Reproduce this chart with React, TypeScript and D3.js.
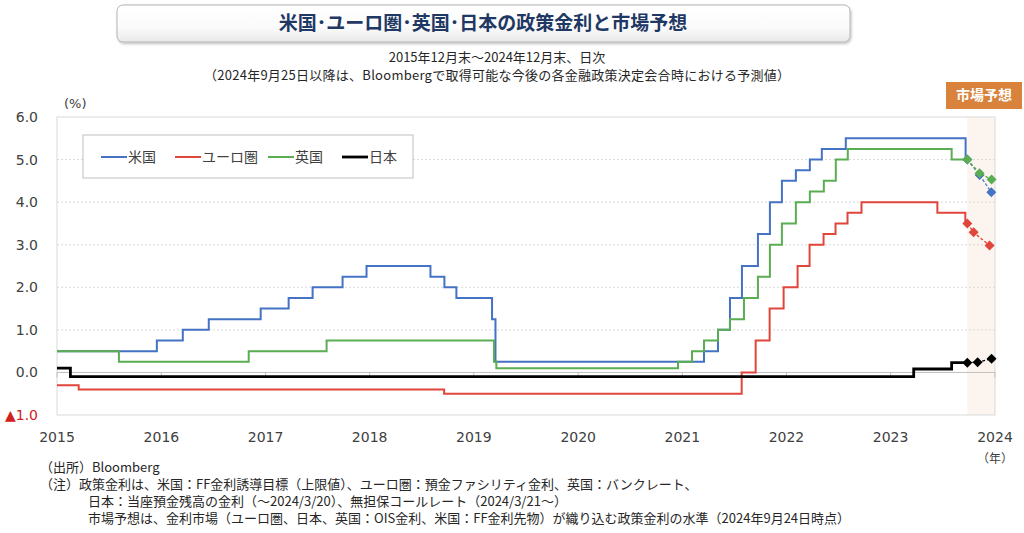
import React from 'react'
import * as d3 from 'd3'

type Pt = [string, number]

// 政策金利の変更日と水準（%）
const usRates: Pt[] = [
  ['2015-12-31', 0.5],
  ['2016-12-15', 0.75],
  ['2017-03-16', 1.0],
  ['2017-06-15', 1.25],
  ['2017-12-14', 1.5],
  ['2018-03-22', 1.75],
  ['2018-06-14', 2.0],
  ['2018-09-27', 2.25],
  ['2018-12-20', 2.5],
  ['2019-08-01', 2.25],
  ['2019-09-19', 2.0],
  ['2019-10-31', 1.75],
  ['2020-03-04', 1.25],
  ['2020-03-16', 0.25],
  ['2022-03-17', 0.5],
  ['2022-05-05', 1.0],
  ['2022-06-16', 1.75],
  ['2022-07-28', 2.5],
  ['2022-09-22', 3.25],
  ['2022-11-03', 4.0],
  ['2022-12-15', 4.5],
  ['2023-02-02', 4.75],
  ['2023-03-23', 5.0],
  ['2023-05-04', 5.25],
  ['2023-07-27', 5.5],
  ['2024-09-19', 5.0]
]

const euroRates: Pt[] = [
  ['2015-12-31', -0.3],
  ['2016-03-16', -0.4],
  ['2019-09-18', -0.5],
  ['2022-07-27', 0.0],
  ['2022-09-14', 0.75],
  ['2022-11-02', 1.5],
  ['2022-12-21', 2.0],
  ['2023-02-08', 2.5],
  ['2023-03-22', 3.0],
  ['2023-05-10', 3.25],
  ['2023-06-21', 3.5],
  ['2023-08-02', 3.75],
  ['2023-09-20', 4.0],
  ['2024-06-12', 3.75],
  ['2024-09-18', 3.5]
]

const ukRates: Pt[] = [
  ['2015-12-31', 0.5],
  ['2016-08-04', 0.25],
  ['2017-11-02', 0.5],
  ['2018-08-02', 0.75],
  ['2020-03-11', 0.25],
  ['2020-03-19', 0.1],
  ['2021-12-16', 0.25],
  ['2022-02-03', 0.5],
  ['2022-03-17', 0.75],
  ['2022-05-05', 1.0],
  ['2022-06-16', 1.25],
  ['2022-08-04', 1.75],
  ['2022-09-22', 2.25],
  ['2022-11-03', 3.0],
  ['2022-12-15', 3.5],
  ['2023-02-02', 4.0],
  ['2023-03-23', 4.25],
  ['2023-05-11', 4.5],
  ['2023-06-22', 5.0],
  ['2023-08-03', 5.25],
  ['2024-08-01', 5.0]
]

const japanRates: Pt[] = [
  ['2015-12-31', 0.1],
  ['2016-02-16', -0.1],
  ['2024-03-21', 0.08],
  ['2024-08-01', 0.23]
]

// 市場予想（2024年9月24日時点）
const usForecast: Pt[] = [
  ['2024-09-25', 5.0],
  ['2024-11-07', 4.64],
  ['2024-12-18', 4.23]
]
const euroForecast: Pt[] = [
  ['2024-09-25', 3.5],
  ['2024-10-17', 3.29],
  ['2024-12-12', 2.98]
]
const ukForecast: Pt[] = [
  ['2024-09-25', 5.0],
  ['2024-11-07', 4.68],
  ['2024-12-19', 4.53]
]
const japanForecast: Pt[] = [
  ['2024-09-25', 0.23],
  ['2024-10-31', 0.24],
  ['2024-12-19', 0.32]
]

const seriesNames = ['米国', 'ユーロ圏', '英国', '日本']
const seriesColors = ['#4472c4', '#e0463b', '#5aad50', '#000000']
const yearLabels = [2015, 2016, 2017, 2018, 2019, 2020, 2021, 2022, 2023, 2024]
const yTicks = [6, 5, 4, 3, 2, 1, 0, -1]

const startDate = '2015-12-31'
const forecastStart = '2024-09-25'
const endDate = '2024-12-31'

const titleText = '米国･ユーロ圏･英国･日本の政策金利と市場予想'
const subtitle1 = '2015年12月末～2024年12月末、日次'
const subtitle2 = '（2024年9月25日以降は、Bloombergで取得可能な今後の各金融政策決定会合時における予測値）'
const notes = [
  '（出所）Bloomberg',
  '（注）政策金利は、米国：FF金利誘導目標（上限値）、ユーロ圏：預金ファシリティ金利、英国：バンクレート、',
  '日本：当座預金残高の金利（～2024/3/20）、無担保コールレート（2024/3/21～）',
  '市場予想は、金利市場（ユーロ圏、日本、英国：OIS金利、米国：FF金利先物）が織り込む政策金利の水準（2024年9月24日時点）'
]

const jp = '"Noto Sans CJK JP", sans-serif'
const num = '"DejaVu Sans", sans-serif'

export default function App() {
  const parse = d3.timeParse('%Y-%m-%d')
  const margin = { left: 57, right: 995, top: 117, bottom: 415 }

  const x = d3
    .scaleTime()
    .domain([parse(startDate)!, parse(endDate)!])
    .range([margin.left, margin.right])
  const y = d3.scaleLinear().domain([-1, 6]).range([margin.bottom, margin.top])

  const stepLine = d3
    .line<Pt>()
    .x(d => x(parse(d[0])!))
    .y(d => y(d[1]))
    .curve(d3.curveStepAfter)
  const straight = d3
    .line<Pt>()
    .x(d => x(parse(d[0])!))
    .y(d => y(d[1]))

  const allRates = [usRates, euroRates, ukRates, japanRates]
  const allForecasts = [usForecast, euroForecast, ukForecast, japanForecast]
  // step line runs to the start of the forecast window
  const histories = allRates.map(r => [...r, [forecastStart, r[r.length - 1][1]] as Pt])

  const diamond = d3.symbol(d3.symbolSquare, 50)()
  const fx = x(parse(forecastStart)!)

  const legendX = [101, 175, 268, 342]

  return (
    <div style={{ position: 'absolute', left: 0, top: 0 }}>
      <svg width={1024} height={533} style={{ display: 'block', background: '#fff' }}>
        <defs>
          <linearGradient id="tbox" x1="0" y1="0" x2="0" y2="1">
            <stop offset="0" stopColor="#ffffff" />
            <stop offset="0.6" stopColor="#fbfbfb" />
            <stop offset="1" stopColor="#e9e9e9" />
          </linearGradient>
          <filter id="shadow" x="-5%" y="-30%" width="110%" height="160%">
            <feDropShadow dx="1" dy="1.5" stdDeviation="1.2" floodColor="#000" floodOpacity="0.25" />
          </filter>
        </defs>

        {/* title */}
        <rect x={117} y={5} width={733} height={37} rx={6} fill="url(#tbox)" stroke="#b5b5b5" filter="url(#shadow)" />
        <text x={483} y={30} textAnchor="middle" fontFamily={jp} fontWeight={700} fontSize={19} fill="#1f3864">
          {titleText}
        </text>
        <text x={497} y={62} textAnchor="middle" fontFamily={jp} fontSize={13} fill="#262626">
          {subtitle1}
        </text>
        <text
          x={497}
          y={80}
          textAnchor="middle"
          fontFamily={jp}
          fontSize={13}
          fill="#262626"
          textLength={586}
          lengthAdjust="spacing"
        >
          {subtitle2}
        </text>

        {/* market forecast label */}
        <rect x={946} y={82} width={76} height={27} fill="#d8823c" />
        <text x={984} y={100} textAnchor="middle" fontFamily={jp} fontWeight={700} fontSize={14} fill="#fff">
          市場予想
        </text>

        {/* forecast shading */}
        <rect x={fx} y={margin.top} width={margin.right - fx} height={margin.bottom - margin.top} fill="#fcf4ee" />

        {/* grid */}
        {yTicks
          .filter(v => v > 0 && v < 6)
          .map(v => (
            <line key={v} x1={margin.left} x2={margin.right} y1={y(v)} y2={y(v)} stroke="#d9d9d9" strokeDasharray="2,2" />
          ))}
        <rect
          x={margin.left}
          y={margin.top}
          width={margin.right - margin.left}
          height={margin.bottom - margin.top}
          fill="none"
          stroke="#d9d9d9"
        />

        {/* zero axis with year ticks */}
        <line x1={margin.left} x2={margin.right} y1={y(0)} y2={y(0)} stroke="#bfbfbf" />
        {yearLabels.map(yr => {
          const px = x(parse(`${yr}-12-31`)!)
          return <line key={yr} x1={px} x2={px} y1={y(0)} y2={y(0) + 5} stroke="#bfbfbf" />
        })}

        {/* y labels */}
        <text x={64} y={108} fontFamily={num} fontSize={13} fill="#404040">
          (%)
        </text>
        {yTicks.map(v => (
          <text
            key={v}
            x={38}
            y={y(v)}
            dy="0.36em"
            textAnchor="end"
            fontFamily={num}
            fontSize={14}
            fill={v < 0 ? '#d02020' : '#404040'}
          >
            {v < 0 ? '▲' + Math.abs(v).toFixed(1) : v.toFixed(1)}
          </text>
        ))}

        {/* x labels */}
        {yearLabels.map(yr => (
          <text
            key={yr}
            x={x(parse(`${yr}-12-31`)!)}
            y={442}
            textAnchor="middle"
            fontFamily={num}
            fontSize={14}
            fill="#404040"
          >
            {yr}
          </text>
        ))}
        <text x={995} y={463} textAnchor="middle" fontFamily={jp} fontSize={12} fill="#404040">
          （年）
        </text>

        {/* policy rate lines */}
        {histories.map((h, i) => (
          <path
            key={seriesNames[i]}
            d={stepLine(h) || ''}
            fill="none"
            stroke={seriesColors[i]}
            strokeWidth={i === 3 ? 2.8 : 2}
            strokeLinejoin="miter"
          />
        ))}

        {/* forecasts */}
        {allForecasts.map((f, i) => (
          <g key={seriesNames[i]}>
            <path d={straight(f) || ''} fill="none" stroke={seriesColors[i]} strokeWidth={1.3} strokeDasharray="3,2" />
            {f.map(d => (
              <path
                key={d[0]}
                d={diamond || ''}
                transform={`translate(${x(parse(d[0])!)},${y(d[1])}) rotate(45)`}
                fill={seriesColors[i]}
              />
            ))}
          </g>
        ))}

        {/* legend */}
        <rect x={83} y={135} width={330} height={43} fill="#fff" stroke="#bfbfbf" />
        {seriesNames.map((n, i) => (
          <g key={n}>
            <line x1={legendX[i]} x2={legendX[i] + 26} y1={157} y2={157} stroke={seriesColors[i]} strokeWidth={i === 3 ? 2.8 : 2} />
            <text x={legendX[i] + 27} y={162} fontFamily={jp} fontSize={14} fill="#404040">
              {n}
            </text>
          </g>
        ))}

        {/* notes */}
        {notes.map((t, i) => (
          <text
            key={i}
            x={i < 2 ? 40 : 88}
            y={472 + i * 17}
            fontFamily={jp}
            fontSize={13}
            fill="#262626"
          >
            {t}
          </text>
        ))}
      </svg>
    </div>
  )
}
